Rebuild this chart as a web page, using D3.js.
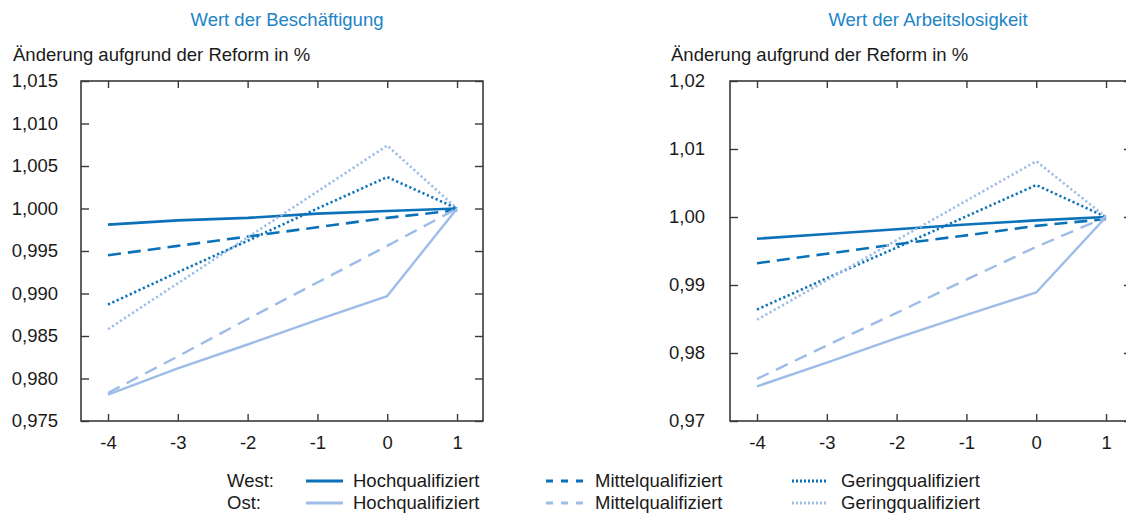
<!DOCTYPE html>
<html>
<head>
<meta charset="utf-8">
<script src="https://cdn.jsdelivr.net/npm/d3@7"></script>
<style>
  html, body { margin: 0; padding: 0; background: #fff; }
  svg { display: block; font-family: "Liberation Sans", Arial, Helvetica, sans-serif; }
</style>
</head>
<body>
<svg id="chart" width="1126" height="513"></svg>
<script>
// ---------- data ----------
const xValues = [-4, -3, -2, -1, 0, 1];
const xTicks = [-4, -3, -2, -1, 0, 1];

const panelTitles = ["Wert der Beschäftigung", "Wert der Arbeitslosigkeit"];
const yAxisTitle = "Änderung aufgrund der Reform in %";

const yTicksLeft = [0.975, 0.980, 0.985, 0.990, 0.995, 1.000, 1.005, 1.010, 1.015];
const yTicksRight = [0.97, 0.98, 0.99, 1.00, 1.01, 1.02];

// Wert der Beschäftigung
const besch_WestHoch   = [0.9981, 0.9986, 0.9989, 0.9994, 0.9997, 1.0000];
const besch_WestMittel = [0.9945, 0.9956, 0.9967, 0.9978, 0.9989, 0.9998];
const besch_WestGering = [0.9887, 0.9925, 0.9962, 1.0000, 1.0037, 1.0000];
const besch_OstHoch    = [0.9781, 0.9812, 0.9840, 0.9869, 0.9897, 1.0000];
const besch_OstMittel  = [0.9783, 0.9826, 0.9870, 0.9913, 0.9956, 1.0000];
const besch_OstGering  = [0.9858, 0.9912, 0.9966, 1.0020, 1.0074, 1.0000];

// Wert der Arbeitslosigkeit
const arb_WestHoch   = [0.9968, 0.9975, 0.9982, 0.9989, 0.9995, 1.0000];
const arb_WestMittel = [0.9932, 0.9946, 0.9960, 0.9973, 0.9987, 0.9997];
const arb_WestGering = [0.9864, 0.9910, 0.9955, 1.0001, 1.0047, 1.0000];
const arb_OstHoch    = [0.9751, 0.9786, 0.9822, 0.9856, 0.9889, 1.0000];
const arb_OstMittel  = [0.9762, 0.9811, 0.9859, 0.9908, 0.9956, 1.0000];
const arb_OstGering  = [0.9849, 0.9907, 0.9966, 1.0024, 1.0082, 1.0000];

const seriesNames = ["West Hochqualifiziert", "West Mittelqualifiziert", "West Geringqualifiziert",
                     "Ost Hochqualifiziert", "Ost Mittelqualifiziert", "Ost Geringqualifiziert"];
const legendRows = ["West:", "Ost:"];
const legendLabels = ["Hochqualifiziert", "Mittelqualifiziert", "Geringqualifiziert"];

// ---------- styles ----------
const DARK = "#0b71b9";
const LIGHT = "#9dbde8";
const TITLE = "#2184c6";
const AXIS = "#3a3a3a";
const TEXT = "#1a1a1a";
const FS = 18.5;
const styles = [
  {color: DARK,  dash: null,        width: 2.6},
  {color: DARK,  dash: "13,7",      width: 2.6},
  {color: DARK,  dash: "2.2,2.6",   width: 2.6},
  {color: LIGHT, dash: null,        width: 2.4},
  {color: LIGHT, dash: "13,8",      width: 2.4},
  {color: LIGHT, dash: "2.2,2.6",   width: 2.6}
];

const svg = d3.select("#chart");

function drawPanel(opts) {
  const {left, top, width, height, yDomain, yTicks, fmt, series, title, titleX, ytitleX, ylabelX} = opts;
  const x = d3.scaleLinear().domain([-4.387, 1.372]).range([left, left + width]);
  const y = d3.scaleLinear().domain(yDomain).range([top + height, top]);
  const g = svg.append("g");

  // titles
  g.append("text").attr("x", titleX).attr("y", 26).attr("text-anchor", "middle")
    .attr("fill", TITLE).attr("font-size", 18.5).text(title);
  g.append("text").attr("x", ytitleX).attr("y", 61).attr("fill", TEXT)
    .attr("font-size", FS).text(yAxisTitle);

  // lines
  const line = d3.line().x((d, i) => x(xValues[i])).y(d => y(d));
  series.forEach((s, i) => {
    const st = styles[i];
    g.append("path").datum(s).attr("d", line).attr("fill", "none")
      .attr("stroke", st.color).attr("stroke-width", st.width)
      .attr("stroke-dasharray", st.dash).attr("stroke-linejoin", "round");
  });

  // axes (ticks inside)
  const tl = 7;
  const axB = d3.axisBottom(x).tickValues(xTicks).tickSize(-tl).tickPadding(tl + 8)
    .tickFormat(d => String(d));
  const axT = d3.axisTop(x).tickValues(xTicks).tickSize(-tl).tickFormat("");
  const axL = d3.axisLeft(y).tickValues(yTicks).tickSize(-8).tickFormat("");
  const axR = d3.axisRight(y).tickValues(yTicks).tickSize(-8).tickFormat("");

  const fixAxis = sel => {
    sel.select(".domain").remove();
    sel.selectAll(".tick line").attr("stroke", AXIS).attr("stroke-width", 1.4);
  };
  g.append("g").attr("transform", `translate(0,${top + height})`).call(axB).call(fixAxis)
    .selectAll("text").attr("font-size", FS).attr("fill", TEXT)
    .attr("font-family", "Liberation Sans, Arial, sans-serif");
  g.append("g").attr("transform", `translate(0,${top})`).call(axT).call(fixAxis);
  g.append("g").attr("transform", `translate(${left},0)`).call(axL).call(fixAxis);
  g.append("g").attr("transform", `translate(${left + width},0)`).call(axR).call(fixAxis);

  // y tick labels
  g.selectAll(".ylab").data(yTicks).enter().append("text")
    .attr("x", ylabelX).attr("y", d => y(d)).attr("dy", "0.35em")
    .attr("text-anchor", "end").attr("font-size", FS).attr("fill", TEXT)
    .text(d => fmt(d).replace(".", ","));

  // frame
  g.append("rect").attr("x", left).attr("y", top).attr("width", width).attr("height", height)
    .attr("fill", "none").attr("stroke", AXIS).attr("stroke-width", 1.6);
}

drawPanel({
  left: 81, top: 81, width: 402, height: 340,
  yDomain: [0.975, 1.015], yTicks: yTicksLeft, fmt: d3.format(".3f"),
  series: [besch_WestHoch, besch_WestMittel, besch_WestGering, besch_OstHoch, besch_OstMittel, besch_OstGering],
  title: panelTitles[0], titleX: 287, ytitleX: 13, ylabelX: 58
});
drawPanel({
  left: 730, top: 81, width: 402, height: 340,
  yDomain: [0.97, 1.02], yTicks: yTicksRight, fmt: d3.format(".2f"),
  series: [arb_WestHoch, arb_WestMittel, arb_WestGering, arb_OstHoch, arb_OstMittel, arb_OstGering],
  title: panelTitles[1], titleX: 928, ytitleX: 671, ylabelX: 705
});

// ---------- legend ----------
const lg = svg.append("g");
const rowY = [481, 503];
const swatchX = [[306, 343], [546, 583], [792, 828]];
const textX = [353, 595, 841];
const legendDash = [null, "7,8", "2,2"];
legendRows.forEach((r, ri) => {
  lg.append("text").attr("x", 227).attr("y", rowY[ri]).attr("dy", "0.35em")
    .attr("font-size", FS).attr("fill", TEXT).text(r);
  legendLabels.forEach((lab, ci) => {
    const st = styles[ri * 3 + ci];
    lg.append("line").attr("x1", swatchX[ci][0]).attr("x2", swatchX[ci][1])
      .attr("y1", rowY[ri]).attr("y2", rowY[ri])
      .attr("stroke", st.color).attr("stroke-width", 3)
      .attr("stroke-dasharray", legendDash[ci]);
    lg.append("text").attr("x", textX[ci]).attr("y", rowY[ri]).attr("dy", "0.35em")
      .attr("font-size", FS).attr("fill", TEXT).text(lab);
  });
});
</script>
</body>
</html>
